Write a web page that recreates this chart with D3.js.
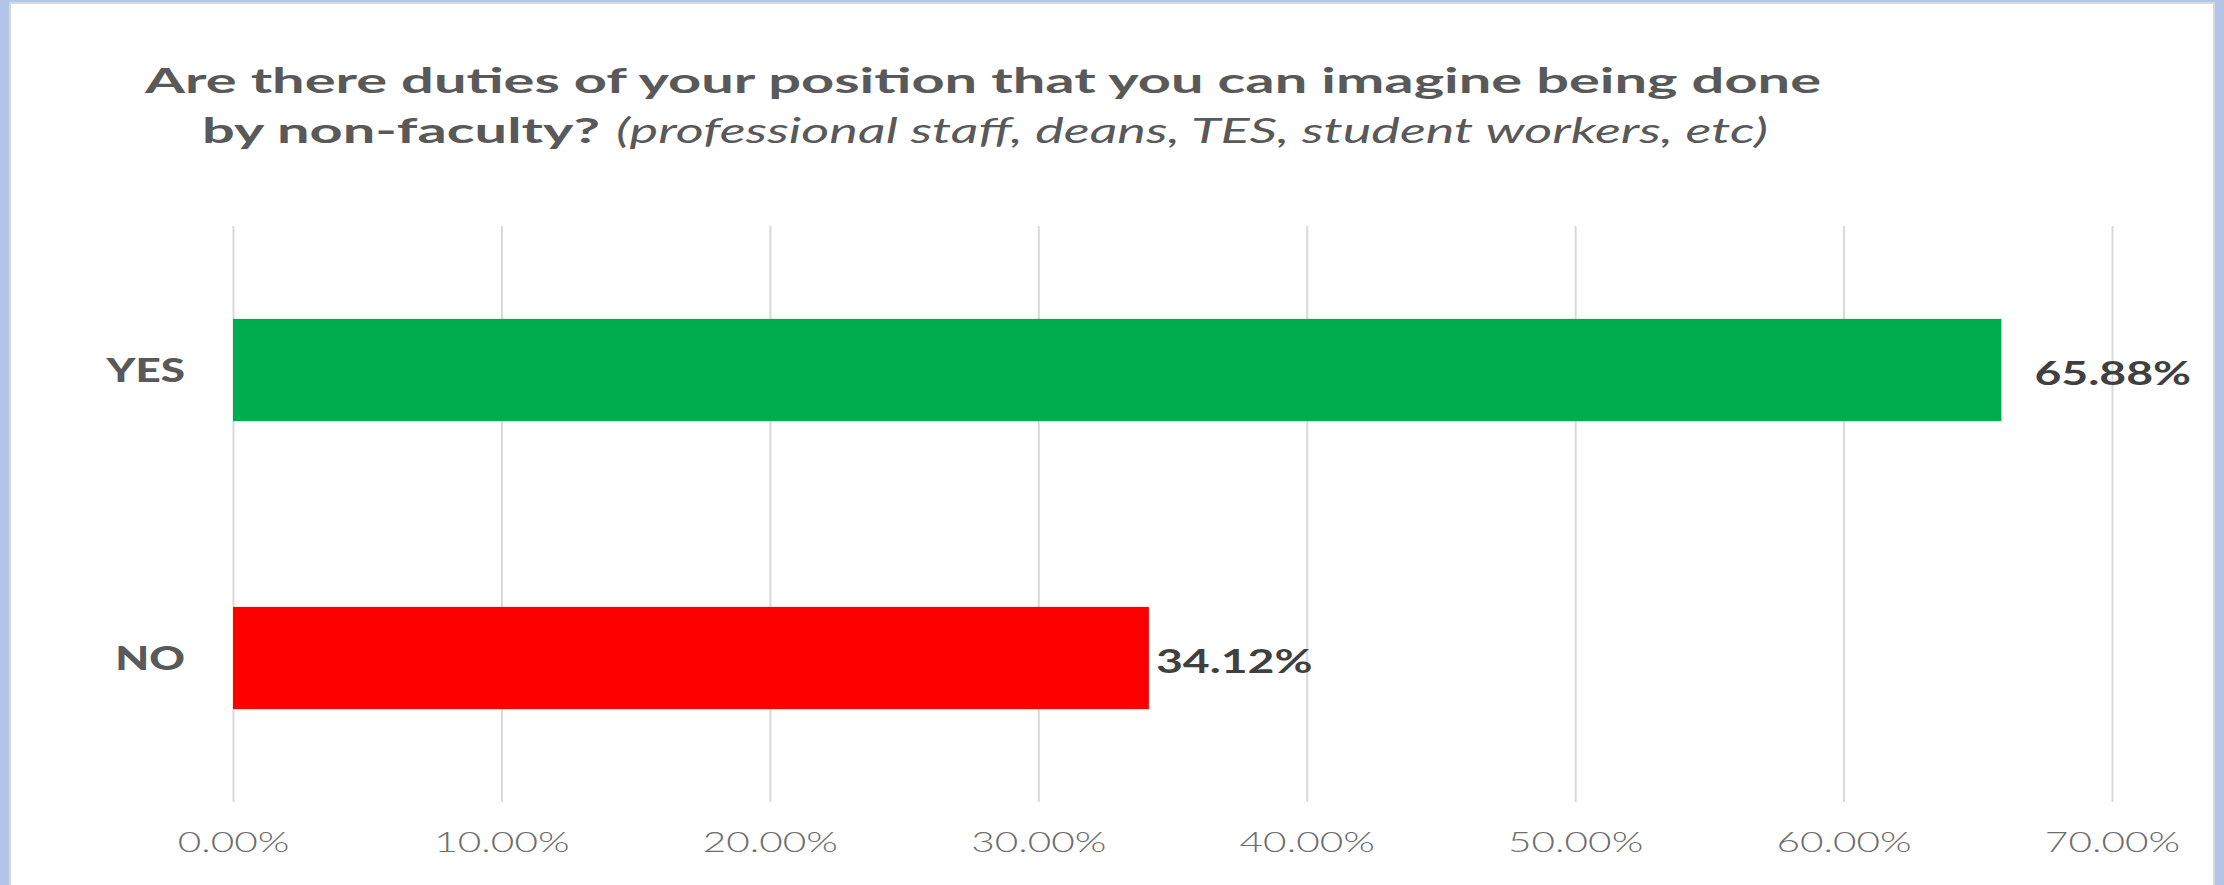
<!DOCTYPE html>
<html>
<head>
<meta charset="utf-8">
<script src="https://cdn.jsdelivr.net/npm/d3@7"></script>
<style>
  html, body { margin: 0; padding: 0; background: #b4c6e7; overflow: hidden; }
  svg { display: block; }
</style>
</head>
<body>
<svg id="chart" width="2224" height="885"></svg>
<script>
// Survey answers (percent of respondents)
const categories = ["YES", "NO"];
const values = [65.88, 34.12];
const tickValues = [0, 10, 20, 30, 40, 50, 60, 70];
const titleLine1 = "Are there duties of your position that you can imagine being done";
const titleLine2Bold = "by non-faculty?";
const titleLine2Italic = "(professional staff, deans, TES, student workers, etc)";

// Styling
const barColors = ["#00ad4e", "#ff0000"];
const textGray = "#595959";
const stretchX = 1.45;               // horizontal widening applied to all labels
const labelGap = [33, 7];            // gap between bar end and its value label
const W = 2224, H = 885;
const plot = { left: 233, right: 2112, top: 226, bottom: 802 };

const svg = d3.select("#chart");

// Panel with thin blue frame
svg.append("rect")
  .attr("x", 10).attr("y", 3)
  .attr("width", 2204).attr("height", H + 10)
  .attr("fill", "#ffffff")
  .attr("stroke", "#d4d8de").attr("stroke-width", 2);

const x = d3.scaleLinear().domain([0, 70]).range([plot.left, plot.right]);
const y = d3.scaleBand().domain(categories)
  .range([plot.top, plot.bottom])
  .paddingInner(0.645).paddingOuter(0.3225);

// Vertical gridlines
const grid = svg.append("g")
  .attr("transform", `translate(0,${plot.bottom})`)
  .call(d3.axisBottom(x).tickValues(tickValues)
    .tickSize(-(plot.bottom - plot.top)).tickFormat(""));
grid.select(".domain").remove();
grid.selectAll(".tick line").attr("stroke", "#d9d9d9").attr("stroke-width", 2);

// Bottom axis labels
const axis = svg.append("g")
  .attr("transform", `translate(0,${plot.bottom})`)
  .call(d3.axisBottom(x).tickValues(tickValues).tickSize(0)
    .tickFormat(d => d3.format(".2f")(d) + "%"));
axis.select(".domain").remove();
axis.selectAll(".tick line").remove();
axis.selectAll(".tick text")
  .attr("y", 50).attr("dy", null)
  .attr("fill", "#6e6e6e")
  .style("font-family", "Lato, 'Open Sans', sans-serif")
  .style("font-weight", 300)
  .style("font-size", "28px")
  .attr("transform", `scale(${stretchX},1)`);

// Bars
const rows = categories.map((c, i) => ({ c, v: values[i], i }));
svg.append("g").selectAll("rect")
  .data(rows).join("rect")
  .attr("x", x(0))
  .attr("y", d => y(d.c))
  .attr("width", d => x(d.v) - x(0))
  .attr("height", y.bandwidth())
  .attr("fill", d => barColors[d.i]);

// Category labels
svg.append("g").selectAll("g")
  .data(rows).join("g")
  .attr("transform", d => `translate(185,${y(d.c) + y.bandwidth() / 2 + 12})`)
  .append("text")
  .attr("text-anchor", "end")
  .attr("transform", `scale(${stretchX * 0.92},1)`)
  .attr("fill", textGray)
  .style("font-family", "Lato, sans-serif")
  .style("font-weight", 900)
  .style("font-size", "33px")
  .text(d => d.c);

// Value labels
svg.append("g").selectAll("g")
  .data(rows).join("g")
  .attr("transform", d => `translate(${x(d.v) + labelGap[d.i]},${y(d.c) + y.bandwidth() / 2 + 15})`)
  .append("text")
  .attr("transform", `scale(${stretchX},1)`)
  .attr("fill", "#404040")
  .style("font-family", "Lato, sans-serif")
  .style("font-weight", 700)
  .style("font-size", "32px")
  .text(d => d3.format(".2f")(d.v) + "%");

// Title
const titleStyle = sel => sel
  .attr("fill", textGray)
  .attr("lengthAdjust", "spacingAndGlyphs")
  .style("font-family", "Lato, sans-serif")
  .style("font-size", "35px");

svg.append("text").call(titleStyle)
  .attr("x", 145).attr("y", 93).attr("textLength", 1676)
  .style("font-weight", 700)
  .text(titleLine1);
svg.append("text").call(titleStyle)
  .attr("x", 202).attr("y", 143).attr("textLength", 398)
  .style("font-weight", 700)
  .text(titleLine2Bold);
svg.append("text").call(titleStyle)
  .attr("x", 616).attr("y", 143).attr("textLength", 1152)
  .style("font-style", "italic")
  .style("font-weight", 400)
  .text(titleLine2Italic);
</script>
</body>
</html>
